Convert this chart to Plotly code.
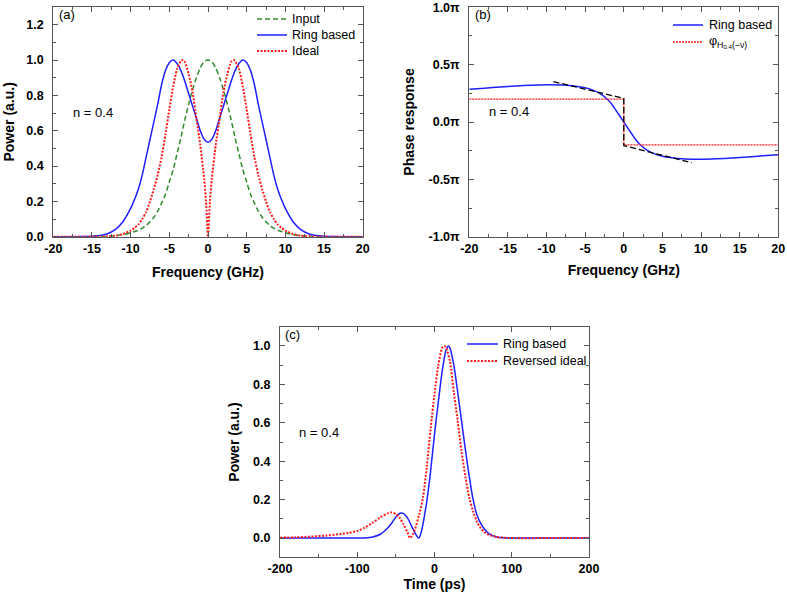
import plotly.graph_objects as go

W, H = 787, 601

# ---------------- Panel (a) data ----------------
freq_a = [-20, -18, -16, -15, -14, -13, -12, -11, -10, -9.5, -9, -8.5, -8, -7.5, -7, -6.5, -6, -5.5, -5,
          -4.5, -4, -3.5, -3, -2.5, -2, -1.5, -1, -0.5, 0, 0.5, 1, 1.5, 2, 2.5, 3, 3.5, 4, 4.5, 5, 5.5,
          6, 6.5, 7, 7.5, 8, 8.5, 9, 9.5, 10, 11, 12, 13, 14, 15, 16, 18, 20]
input_power = [0, 0, 0, 0, 0.001, 0.002, 0.005, 0.011, 0.022, 0.029, 0.037, 0.048, 0.063, 0.085, 0.11,
               0.145, 0.19, 0.24, 0.31, 0.38, 0.47, 0.56, 0.66, 0.75, 0.83, 0.9, 0.955, 0.99, 1.0, 0.99,
               0.955, 0.9, 0.83, 0.75, 0.66, 0.56, 0.47, 0.38, 0.31, 0.24, 0.19, 0.145, 0.11, 0.085, 0.063,
               0.048, 0.037, 0.029, 0.022, 0.011, 0.005, 0.002, 0.001, 0, 0, 0, 0]
ring_power = [0, 0, 0.001, 0.003, 0.007, 0.017, 0.04, 0.085, 0.16, 0.21, 0.27, 0.35, 0.45, 0.55, 0.65,
              0.75, 0.86, 0.94, 0.985, 1.0, 0.98, 0.94, 0.88, 0.81, 0.74, 0.67, 0.6, 0.552, 0.535, 0.552,
              0.6, 0.67, 0.74, 0.81, 0.88, 0.94, 0.98, 1.0, 0.985, 0.94, 0.86, 0.75, 0.65, 0.55, 0.45,
              0.35, 0.27, 0.21, 0.16, 0.085, 0.04, 0.017, 0.007, 0.003, 0.001, 0, 0]
freq_ideal = [-20, -18, -16, -15, -14, -13, -12, -11, -10, -9.5, -9, -8.5, -8, -7.5, -7, -6.5, -6, -5.5,
              -5, -4.5, -4, -3.5, -3.3, -3, -2.5, -2, -1.5, -1, -0.5, -0.25, 0, 0.25, 0.5, 1, 1.5, 2,
              2.5, 3, 3.3, 3.5, 4, 4.5, 5, 5.5, 6, 6.5, 7, 7.5, 8, 8.5, 9, 9.5, 10, 11, 12, 13, 14, 15,
              16, 18, 20]
ideal_power = [0, 0, 0, 0, 0.001, 0.002, 0.006, 0.015, 0.035, 0.05, 0.07, 0.1, 0.14, 0.2, 0.27, 0.35,
               0.45, 0.58, 0.72, 0.85, 0.95, 0.995, 1.0, 0.99, 0.92, 0.82, 0.67, 0.52, 0.33, 0.2, 0,
               0.2, 0.33, 0.52, 0.67, 0.82, 0.92, 0.99, 1.0, 0.995, 0.95, 0.85, 0.72, 0.58, 0.45, 0.35,
               0.27, 0.2, 0.14, 0.1, 0.07, 0.05, 0.035, 0.015, 0.006, 0.002, 0.001, 0, 0, 0, 0]
freq_tickvals = [-20, -15, -10, -5, 0, 5, 10, 15, 20]
freq_ticktext = ["-20", "-15", "-10", "-5", "0", "5", "10", "15", "20"]
power_a_tickvals = [0, 0.2, 0.4, 0.6, 0.8, 1.0, 1.2]
power_a_ticktext = ["0.0", "0.2", "0.4", "0.6", "0.8", "1.0", "1.2"]
legend_a_names = ["Input", "Ring based", "Ideal"]

# ---------------- Panel (b) data (phase in units of pi) ----------------
freq_b = [-20, -18, -16, -14, -12, -10, -8, -7, -6, -5, -4, -3, -2, -1.5, -1, -0.5, 0, 0.5, 1, 1.5, 2,
          3, 4, 5, 6, 7, 8, 10, 12, 14, 16, 18, 20]
ring_phase = [0.285, 0.295, 0.305, 0.314, 0.321, 0.325, 0.323, 0.318, 0.31, 0.298, 0.278, 0.245, 0.19,
              0.15, 0.1, 0.05, 0, -0.05, -0.1, -0.15, -0.19, -0.245, -0.278, -0.298, -0.31, -0.318,
              -0.323, -0.325, -0.321, -0.314, -0.305, -0.295, -0.285]
ideal_phase_freq = [-20, 0, 0, 20]
ideal_phase = [0.2, 0.2, -0.2, -0.2]
approx_freq = [-9.1, 0, 0, 8.8]
approx_phase = [0.352, 0.206, -0.206, -0.355]
phase_tickvals = [-1.0, -0.5, 0.0, 0.5, 1.0]
phase_ticktext = ["-1.0\u03c0", "-0.5\u03c0", "0.0\u03c0", "0.5\u03c0", "1.0\u03c0"]
legend_b_names = ["Ring based", "\u03c6<sub>H<sub>0.4</sub>(\u2212\u03bd)</sub>"]

# ---------------- Panel (c) data ----------------
time_ring = [-200, -150, -100, -90, -80, -70, -60, -55, -50, -45, -43, -40, -35, -30, -25, -20.5, -18,
             -15, -12, -10, -5, 0, 5, 10, 15, 18, 20, 25, 30, 35, 40, 45, 50, 55, 60, 65, 70, 80, 90,
             100, 150, 200]
ring_pulse = [0, 0, 0, 0.001, 0.006, 0.02, 0.055, 0.08, 0.11, 0.128, 0.13, 0.127, 0.105, 0.065, 0.025,
              0, 0.02, 0.07, 0.14, 0.19, 0.35, 0.54, 0.71, 0.87, 0.98, 1.0, 0.99, 0.9, 0.76, 0.61, 0.46,
              0.32, 0.2, 0.12, 0.075, 0.045, 0.025, 0.006, 0.001, 0, 0, 0]
time_ideal = [-200, -180, -160, -140, -120, -110, -100, -90, -80, -70, -60, -55, -50, -45, -40, -35,
              -31.7, -28, -25, -20, -15, -10, -5, 0, 5, 10, 12.7, 15, 20, 25, 30, 35, 40, 45, 50, 55,
              60, 65, 70, 80, 90, 100, 150, 200]
ideal_pulse = [0.002, 0.004, 0.008, 0.013, 0.022, 0.028, 0.037, 0.055, 0.08, 0.108, 0.13, 0.133, 0.125,
               0.105, 0.07, 0.03, 0, 0.02, 0.05, 0.12, 0.21, 0.37, 0.57, 0.75, 0.9, 0.99, 1.0, 0.99,
               0.92, 0.76, 0.61, 0.45, 0.32, 0.21, 0.14, 0.085, 0.05, 0.03, 0.018, 0.006, 0.002, 0, 0, 0]
time_tickvals = [-200, -100, 0, 100, 200]
time_ticktext = ["-200", "-100", "0", "100", "200"]
power_c_tickvals = [0, 0.2, 0.4, 0.6, 0.8, 1.0]
power_c_ticktext = ["0.0", "0.2", "0.4", "0.6", "0.8", "1.0"]
legend_c_names = ["Ring based", "Reversed ideal"]

BLUE = "#1f1fff"
RED = "#ff1a1a"
GREEN = "#2e8b2e"
AXC = "#555555"
FONT = "Liberation Sans, Arial, sans-serif"

STY_GREEN = dict(color=GREEN, width=1.5, dash="5px,3px")
STY_BLUE = dict(color=BLUE, width=1.5)
STY_RED = dict(color=RED, width=2, dash="2px,1.5px")
STY_RED_THIN = dict(color=RED, width=1.3, dash="2px,1px")

fig = go.Figure()

# Panel (a)
fig.add_trace(go.Scatter(x=freq_a, y=input_power, mode="lines", name=legend_a_names[0],
                         line=dict(**STY_GREEN, shape="spline", smoothing=0.8), xaxis="x", yaxis="y"))
fig.add_trace(go.Scatter(x=freq_a, y=ring_power, mode="lines", name=legend_a_names[1],
                         line=dict(**STY_BLUE, shape="spline", smoothing=0.8), xaxis="x", yaxis="y"))
fig.add_trace(go.Scatter(x=freq_ideal, y=ideal_power, mode="lines", name=legend_a_names[2],
                         line=dict(**STY_RED, shape="spline", smoothing=0.6), xaxis="x", yaxis="y"))

# Panel (b)
fig.add_trace(go.Scatter(x=freq_b, y=ring_phase, mode="lines", name=legend_b_names[0],
                         line=dict(**STY_BLUE, shape="spline", smoothing=0.8), xaxis="x2", yaxis="y2"))
fig.add_trace(go.Scatter(x=ideal_phase_freq, y=ideal_phase, mode="lines", name=legend_b_names[1],
                         line=STY_RED_THIN, xaxis="x2", yaxis="y2"))
fig.add_trace(go.Scatter(x=approx_freq, y=approx_phase, mode="lines", name="approx",
                         line=dict(color="black", width=1.3, dash="6px,3px"), xaxis="x2", yaxis="y2"))

# Panel (c)
fig.add_trace(go.Scatter(x=time_ring, y=ring_pulse, mode="lines", name=legend_c_names[0],
                         line=dict(**STY_BLUE, shape="spline", smoothing=0.8), xaxis="x3", yaxis="y3"))
fig.add_trace(go.Scatter(x=time_ideal, y=ideal_pulse, mode="lines", name=legend_c_names[1],
                         line=dict(**STY_RED, shape="spline", smoothing=0.8), xaxis="x3", yaxis="y3"))


def px_x(p):
    return p / W


def px_y(p):
    return 1 - p / H


def axis(domain, rng, tickvals, ticktext, minor_vals, title, anchor, standoff, is_y=False):
    d = dict(domain=domain, range=rng, anchor=anchor, automargin=False, showline=True,
             linecolor=AXC, linewidth=1.3, mirror="allticks", ticks="inside", ticklen=5,
             tickwidth=1.2, tickcolor=AXC, showgrid=False, zeroline=False,
             tickmode="array", tickvals=tickvals, ticktext=ticktext, ticklabeloverflow="allow",
             tickfont=dict(family=FONT, size=12.5, color="black", weight="bold"),
             minor=dict(ticks="inside", ticklen=3, tickwidth=1, tickcolor=AXC, tickmode="array",
                        tickvals=minor_vals),
             title=dict(text=title, font=dict(family=FONT, size=14, color="black", weight="bold"),
                        standoff=standoff))
    if is_y:
        d["ticklabelstandoff"] = 6
    return d


fig.update_layout(
    width=W, height=H, margin=dict(l=0, r=0, t=0, b=0, autoexpand=False),
    paper_bgcolor="white", plot_bgcolor="white", showlegend=False,
    font=dict(family=FONT, color="black"),
    xaxis=axis([px_x(53.3), px_x(362.7)], [-20, 20], freq_tickvals, freq_ticktext,
               [-17.5, -12.5, -7.5, -2.5, 2.5, 7.5, 12.5, 17.5], "Frequency (GHz)", "y", 12),
    yaxis=axis([px_y(236.7), px_y(7)], [0, 1.3], power_a_tickvals, power_a_ticktext,
               [0.1, 0.3, 0.5, 0.7, 0.9, 1.1], "Power (a.u.)", "x", 8, True),
    xaxis2=axis([px_x(469.3), px_x(778.3)], [-20, 20], freq_tickvals, freq_ticktext,
                [-17.5, -12.5, -7.5, -2.5, 2.5, 7.5, 12.5, 17.5], "Frequency (GHz)", "y2", 10),
    yaxis2=axis([px_y(236.7), px_y(7.3)], [-1, 1], phase_tickvals, phase_ticktext,
                [-0.75, -0.25, 0.25, 0.75], "Phase response", "x2", 10, True),
    xaxis3=axis([px_x(280), px_x(589)], [-200, 200], time_tickvals, time_ticktext,
                [-150, -50, 50, 150], "Time (ps)", "y3", 3),
    yaxis3=axis([px_y(557.3), px_y(326.7)], [-0.1, 1.1], power_c_tickvals, power_c_ticktext,
                [-0.1, 0.1, 0.3, 0.5, 0.7, 0.9, 1.1], "Power (a.u.)", "x3", 10, True),
)

ann_font = dict(family=FONT, size=13, color="black")
for txt, x, y in [("(a)", 57, 15), ("n = 0.4", 71, 112), ("(b)", 473, 15), ("n = 0.4", 487, 111),
                  ("(c)", 283, 335), ("n = 0.4", 297, 432)]:
    fig.add_annotation(text=txt, xref="paper", yref="paper", x=px_x(x), y=px_y(y), xanchor="left",
                       yanchor="middle", showarrow=False, font=ann_font)

# Hand-built legends (Origin-style, compact rows)
leg_font = dict(family=FONT, size=12.5, color="black")
legends = [
    (257, 287, 290, [19, 35, 51], legend_a_names, [STY_GREEN, STY_BLUE, STY_RED]),
    (673, 703, 707, [25, 42], legend_b_names, [STY_BLUE, STY_RED_THIN]),
    (467, 498, 501, [344, 361], legend_c_names, [STY_BLUE, STY_RED]),
]
for x0, x1, xt, rows, names, styles in legends:
    for yy, name, sty in zip(rows, names, styles):
        fig.add_shape(type="line", xref="paper", yref="paper", x0=px_x(x0), x1=px_x(x1),
                      y0=px_y(yy), y1=px_y(yy), line=sty)
        fig.add_annotation(text=name, xref="paper", yref="paper", x=px_x(xt), y=px_y(yy),
                           xanchor="left", yanchor="middle", showarrow=False, font=leg_font)

fig.write_html("out.html", config={"displayModeBar": False},
               post_script="document.body.style.margin='0';document.body.style.padding='0';")
